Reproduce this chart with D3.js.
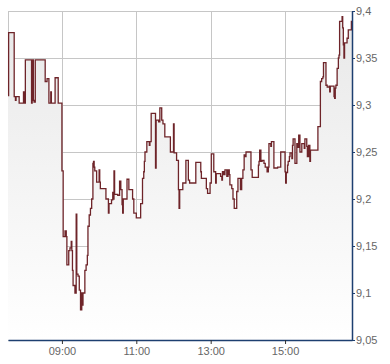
<!DOCTYPE html>
<html lang="en">
<head>
  <meta charset="UTF-8">
  <title>Intraday price</title>
  <style>
    body {
      margin: 0;
      padding: 0;
      background: #fff;
    }
    .tick text {
      font-family: "Liberation Sans", Arial, sans-serif;
      font-size: 11px;
      fill: #666;
    }
    .grid line {
      stroke: #c6c6c6;
      stroke-width: 1;
    }
  </style>
</head>
<body>
  <script src="https://d3js.org/d3.v7.min.js"></script>
  <script>
    // price series
    const times = [
      "07:33","07:34","07:43","07:45","07:46","07:51","07:58","07:59","08:01","08:11",
      "08:12","08:14","08:15","08:17","08:33","08:36","08:39","08:42","08:43","08:49",
      "08:54","09:00","09:02","09:05","09:07","09:08","09:11","09:13","09:15","09:16",
      "09:17","09:18","09:21","09:23","09:24","09:26","09:28","09:30","09:32","09:33",
      "09:34","09:37","09:39","09:41","09:42","09:44","09:46","09:48","09:50","09:51",
      "09:52","09:53","09:56","10:00","10:01","10:02","10:11","10:15","10:16","10:20",
      "10:22","10:23","10:24","10:25","10:30","10:33","10:35","10:37","10:38","10:39",
      "10:45","10:48","10:54","10:56","11:00","11:07","11:10","11:12","11:13","11:14",
      "11:17","11:21","11:22","11:24","11:31","11:32","11:36","11:38","11:41","11:43",
      "11:46","11:55","12:00","12:01","12:05","12:08","12:09","12:10","12:15","12:20",
      "12:24","12:26","12:36","12:44","12:45","12:53","12:55","12:59","13:01","13:05",
      "13:08","13:09","13:16","13:18","13:19","13:21","13:23","13:26","13:28","13:30",
      "13:31","13:34","13:36","13:38","13:42","13:44","13:48","13:50","13:52","13:54",
      "13:56","13:57","14:05","14:07","14:17","14:18","14:19","14:21","14:23","14:26",
      "14:28","14:31","14:33","14:34","14:37","14:38","14:42","14:48","14:53","15:00",
      "15:01","15:02","15:04","15:05","15:07","15:08","15:11","15:12","15:13","15:16",
      "15:19","15:20","15:22","15:24","15:27","15:31","15:32","15:35","15:36","15:38",
      "15:40","15:41","15:53","15:57","15:59","16:01","16:02","16:06","16:08","16:11",
      "16:12","16:13","16:19","16:20","16:21","16:22","16:24","16:26","16:27","16:28",
      "16:32","16:33","16:34","16:35","16:36","16:40","16:42","16:47","16:48"
    ];
    const prices = [
      9.31, 9.377, 9.309, 9.305, 9.309, 9.302, 9.314, 9.302, 9.348, 9.302,
      9.348, 9.305, 9.303, 9.348, 9.325, 9.328, 9.302, 9.314, 9.302, 9.329,
      9.302, 9.23, 9.16, 9.166, 9.16, 9.13, 9.145, 9.148, 9.155, 9.145,
      9.124, 9.108, 9.1, 9.184, 9.12, 9.118, 9.103, 9.082, 9.1, 9.087,
      9.1, 9.124, 9.13, 9.14, 9.171, 9.183, 9.19, 9.2, 9.238, 9.24,
      9.234, 9.23, 9.218, 9.231, 9.218, 9.211, 9.2, 9.185, 9.195, 9.199,
      9.207, 9.2, 9.23, 9.205, 9.204, 9.219, 9.21, 9.194, 9.185, 9.2,
      9.221, 9.21, 9.2, 9.185, 9.18, 9.195, 9.222, 9.229, 9.24, 9.25,
      9.261, 9.257, 9.261, 9.291, 9.233, 9.284, 9.282, 9.297, 9.284, 9.28,
      9.266, 9.25, 9.28, 9.249, 9.241, 9.21, 9.19, 9.21, 9.217, 9.241,
      9.22, 9.217, 9.239, 9.229, 9.222, 9.211, 9.206, 9.217, 9.248, 9.229,
      9.217, 9.227, 9.224, 9.22, 9.229, 9.226, 9.231, 9.224, 9.231, 9.226,
      9.215, 9.211, 9.2, 9.19, 9.208, 9.222, 9.21, 9.222, 9.231, 9.247,
      9.245, 9.25, 9.231, 9.223, 9.236, 9.24, 9.252, 9.24, 9.241, 9.238,
      9.234, 9.229, 9.234, 9.259, 9.256, 9.261, 9.233, 9.234, 9.25, 9.229,
      9.217, 9.228, 9.236, 9.24, 9.245, 9.249, 9.243, 9.257, 9.264, 9.238,
      9.259, 9.255, 9.268, 9.25, 9.259, 9.254, 9.264, 9.256, 9.245, 9.257,
      9.24, 9.252, 9.277, 9.325, 9.328, 9.33, 9.345, 9.321, 9.319, 9.32,
      9.314, 9.32, 9.309, 9.307, 9.318, 9.321, 9.339, 9.35, 9.353, 9.389,
      9.394, 9.382, 9.364, 9.35, 9.366, 9.371, 9.38, 9.389, 9.389
    ];

    const yTicks = [9.05, 9.1, 9.15, 9.2, 9.25, 9.3, 9.35, 9.4];
    const xTickLabels = ["09:00", "11:00", "13:00", "15:00"];
    const timeRange = ["07:33", "16:48"];

    const width = 390;
    const height = 364;
    const margin = { top: 11, right: 38, bottom: 24, left: 8 };
    const innerW = width - margin.left - margin.right;
    const innerH = height - margin.top - margin.bottom;

    const parse = d3.timeParse("%H:%M");
    const data = times.map((t, i) => ({ t: parse(t), v: prices[i] }));

    const x = d3.scaleTime()
      .domain(timeRange.map(parse))
      .range([0, innerW]);

    const y = d3.scaleLinear()
      .domain([9.05, 9.4])
      .range([innerH, 0]);

    const locale = d3.formatLocale({ decimal: ",", thousands: ".", grouping: [3], currency: ["", " €"] });
    const fmtY = d => locale.format("")(+d.toFixed(2));

    const svg = d3.select("body")
      .append("svg")
      .attr("width", width)
      .attr("height", height);

    const defs = svg.append("defs");
    const grad = defs.append("linearGradient")
      .attr("id", "fillGrad")
      .attr("gradientUnits", "userSpaceOnUse")
      .attr("x1", 0).attr("y1", 0)
      .attr("x2", 0).attr("y2", innerH);
    grad.append("stop").attr("offset", "0%").attr("stop-color", "#e8e8e8");
    grad.append("stop").attr("offset", "100%").attr("stop-color", "#ffffff");

    const g = svg.append("g")
      .attr("transform", `translate(${margin.left},${margin.top})`);

    // grid
    const grid = g.append("g").attr("class", "grid");
    grid.selectAll(".h")
      .data(yTicks)
      .enter().append("line")
        .attr("class", "h")
        .attr("x1", 0).attr("x2", innerW)
        .attr("y1", d => Math.round(y(d)) + 0.5)
        .attr("y2", d => Math.round(y(d)) + 0.5);
    grid.selectAll(".v")
      .data(xTickLabels.map(parse))
      .enter().append("line")
        .attr("class", "v")
        .attr("y1", 0).attr("y2", innerH)
        .attr("x1", d => Math.round(x(d)) + 0.5)
        .attr("x2", d => Math.round(x(d)) + 0.5);
    grid.append("line")
      .attr("x1", 0.5).attr("x2", 0.5)
      .attr("y1", 0).attr("y2", innerH);

    // area + line
    const area = d3.area()
      .x(d => x(d.t))
      .y0(innerH)
      .y1(d => y(d.v))
      .curve(d3.curveStepAfter);

    const line = d3.line()
      .x(d => x(d.t))
      .y(d => y(d.v))
      .curve(d3.curveStepAfter);

    g.append("path")
      .datum(data)
      .attr("fill", "url(#fillGrad)")
      .attr("d", area);

    g.append("path")
      .datum(data)
      .attr("fill", "none")
      .attr("stroke", "#6e2429")
      .attr("stroke-width", 1.3)
      .attr("d", line);

    // axes
    const axisColor = "#1d3f70";

    const yAxis = g.append("g")
      .attr("transform", `translate(${innerW},0)`)
      .call(d3.axisRight(y).tickValues(yTicks).tickFormat(fmtY).tickSizeInner(3).tickSizeOuter(0).tickPadding(1));
    yAxis.select(".domain").attr("stroke", axisColor).attr("stroke-width", 1.5);
    yAxis.selectAll(".tick line").attr("stroke", axisColor);

    const xAxis = g.append("g")
      .attr("transform", `translate(0,${innerH})`)
      .call(d3.axisBottom(x).tickValues(xTickLabels.map(parse)).tickFormat(d3.timeFormat("%H:%M")).tickSizeInner(4).tickSizeOuter(0).tickPadding(3));
    xAxis.select(".domain").attr("stroke", axisColor).attr("stroke-width", 1.5);
    xAxis.selectAll(".tick line").attr("stroke", "#333");
  </script>
</body>
</html>
